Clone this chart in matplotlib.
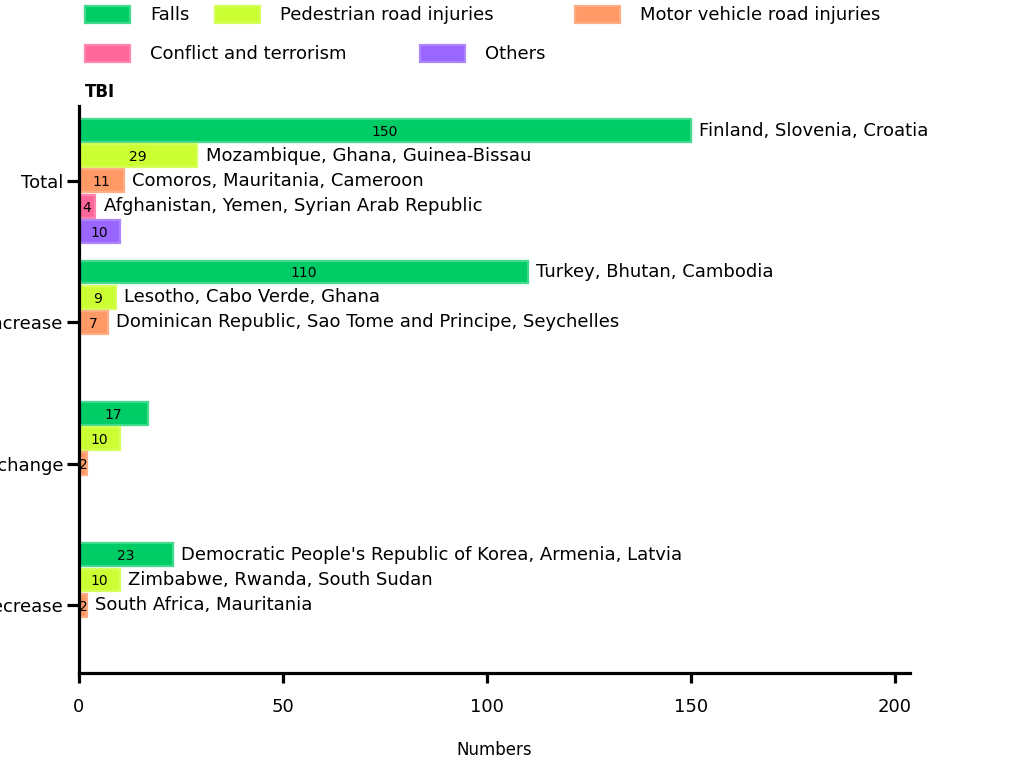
import matplotlib
matplotlib.use("Agg")
import matplotlib.pyplot as plt
import numpy as np

plt.rcParams['font.family'] = ['DejaVu Sans']

categories = ["Total", "Increase", "No change", "Decrease"]
series = ["Falls", "Pedestrian road injuries", "Motor vehicle road injuries",
          "Conflict and terrorism", "Others"]
falls = [150, 110, 17, 23]
pedestrian = [29, 9, 10, 10]
motor = [11, 7, 2, 2]
conflict = [4, 0, 0, 0]
others = [10, 0, 0, 0]
values = [falls, pedestrian, motor, conflict, others]

countries_falls = ["Finland, Slovenia, Croatia", "Turkey, Bhutan, Cambodia", "",
                   "Democratic People's Republic of Korea, Armenia, Latvia"]
countries_pedestrian = ["Mozambique, Ghana, Guinea-Bissau", "Lesotho, Cabo Verde, Ghana", "",
                        "Zimbabwe, Rwanda, South Sudan"]
countries_motor = ["Comoros, Mauritania, Cameroon",
                   "Dominican Republic, Sao Tome and Principe, Seychelles", "",
                   "South Africa, Mauritania"]
countries_conflict = ["Afghanistan, Yemen, Syrian Arab Republic", "", "", ""]
countries_others = ["", "", "", ""]
countries = [countries_falls, countries_pedestrian, countries_motor,
             countries_conflict, countries_others]

faces = ["#00CC66", "#CCFF33", "#FF9966", "#FF6699", "#9966FF"]
edges = ["#3FDA8C", "#D6FF5C", "#FFAD85", "#FF85AD", "#AD85FF"]

W, H = 1016, 762
fig = plt.figure(figsize=(W / 100, H / 100), dpi=100)
ax = fig.add_axes([79 / W, 1 - 673 / H, (910 - 79) / W, (673 - 106) / H])

step = 0.178
bh = 0.162
pos = np.arange(len(categories))
handles = []
for j, (vals, fc, ec) in enumerate(zip(values, faces, edges)):
    y = pos + (j - 2) * step
    b = ax.barh(y, vals, height=bh, color=fc, edgecolor=ec, linewidth=1.6,
                label=series[j], zorder=2)
    handles.append(b)
    for yi, v, c in zip(y, vals, countries[j]):
        if v > 0:
            ax.text(v / 2, yi + 0.01, str(v), ha='center', va='center',
                    fontsize=10, color='black', zorder=3)
        if c:
            ax.annotate(c, (v, yi), xytext=(6, 0), textcoords='offset points',
                        ha='left', va='center', fontsize=13, color='black',
                        annotation_clip=False)

ax.set_xlim(0, (910 - 79) / 4.08)
ax.set_ylim(3.48, -0.53)
ax.set_yticks(pos)
ax.set_yticklabels(categories, fontsize=13)
ax.set_xticks([0, 50, 100, 150, 200])
ax.set_xticklabels(["0", "50", "100", "150", "200"], fontsize=13)
for s in ["top", "right"]:
    ax.spines[s].set_visible(False)
for s in ["left", "bottom"]:
    ax.spines[s].set_linewidth(2.3)
ax.tick_params(axis='y', length=8.5, width=2.3, pad=3)
ax.tick_params(axis='x', length=7, width=2.3, pad=11)
ax.set_xlabel("Numbers", fontsize=12, labelpad=18)

fig.text(85 / W, 1 - 92 / H, "TBI", fontsize=12, fontweight='bold',
         ha='left', va='center')

legend_spots = [(85, 15), (215, 15), (575, 15), (85, 54), (420, 54)]
for h, name, (lx, ly) in zip(handles, series, legend_spots):
    lg = fig.legend([h], [name], loc='center left',
                    bbox_to_anchor=(lx / W, 1 - ly / H), frameon=False,
                    borderpad=0, borderaxespad=0, handlelength=2.5,
                    handleheight=1.1, handletextpad=1.1, fontsize=13)

fig.savefig("out.png", dpi=100)
